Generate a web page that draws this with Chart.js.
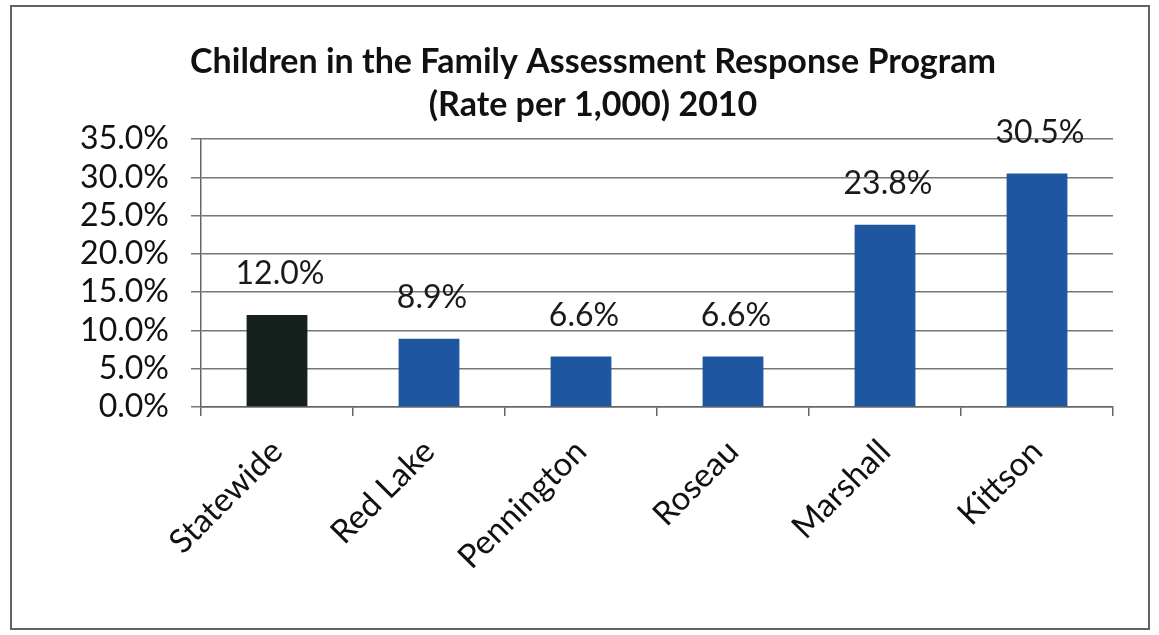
<!DOCTYPE html>
<html>
<head>
<meta charset="utf-8">
<script src="https://cdn.jsdelivr.net/npm/chart.js@4.4.1/dist/chart.umd.min.js"></script>
<style>
    html, body { margin: 0; padding: 0; background: #fff; }
    #wrap {
        position: absolute; left: 10px; top: 5px;
        width: 1136px; height: 621px;
        border: 2px solid #5f6361;
    }
</style>
</head>
<body>
<div id="wrap"><canvas id="chart" width="1136" height="621"></canvas></div>
<script>
// Chart data
const categories = ['Statewide', 'Red Lake', 'Pennington', 'Roseau', 'Marshall', 'Kittson'];
const rates = [12.0, 8.9, 6.6, 6.6, 23.8, 30.5];
const barColors = ['#16201d', '#1f56a0', '#1f56a0', '#1f56a0', '#1f56a0', '#1f56a0'];
const titleLines = ['Children in the Family Assessment Response Program', '(Rate per 1,000) 2010'];

const FONT = 'Lato, "Open Sans", sans-serif';

// draws the value above each bar
const valueLabels = {
    id: 'valueLabels',
    afterDatasetsDraw(chart) {
        const ctx = chart.ctx;
        const meta = chart.getDatasetMeta(0);
        ctx.save();
        ctx.font = '32px ' + FONT;
        ctx.fillStyle = '#1a1a1a';
        ctx.textAlign = 'center';
        ctx.textBaseline = 'bottom';
        meta.data.forEach((bar, i) => {
            ctx.fillText(rates[i].toFixed(1) + '%', bar.x + 3, bar.y - 25);
        });
        ctx.restore();
    }
};

new Chart(document.getElementById('chart').getContext('2d'), {
    type: 'bar',
    data: {
        labels: categories,
        datasets: [{
            data: rates,
            backgroundColor: barColors,
            borderWidth: 0,
            categoryPercentage: 1,
            barPercentage: 0.4
        }]
    },
    options: {
        responsive: false,
        animation: false,
        layout: { padding: { left: 61, right: 35, top: 0, bottom: 0 } },
        plugins: {
            legend: { display: false },
            tooltip: { enabled: false },
            title: {
                display: true,
                text: titleLines,
                color: '#111',
                font: { family: FONT, size: 34, weight: 'bold', lineHeight: 1.265 },
                padding: { top: 34, bottom: 12 }
            }
        },
        scales: {
            x: {
                offset: true,
                grid: {
                    offset: true,
                    drawOnChartArea: false,
                    color: '#666',
                    lineWidth: 1.5,
                    tickLength: 9
                },
                border: { color: '#666', width: 1.5 },
                ticks: {
                    color: '#111',
                    font: { family: FONT, size: 33 },
                    maxRotation: 45,
                    minRotation: 45,
                    autoSkip: false,
                    padding: 16
                },
                afterFit: s => { s.height = 221; }
            },
            y: {
                min: 0,
                max: 35,
                grid: { color: '#777', lineWidth: 1.5, tickLength: 10 },
                border: { color: '#666', width: 1.5 },
                ticks: {
                    stepSize: 5,
                    autoSkip: false,
                    color: '#111',
                    font: { family: FONT, size: 32 },
                    padding: 22,
                    callback: v => v.toFixed(1) + '%'
                },
                afterFit: s => { s.width = 128; }
            }
        }
    },
    plugins: [valueLabels]
});
</script>
</body>
</html>
